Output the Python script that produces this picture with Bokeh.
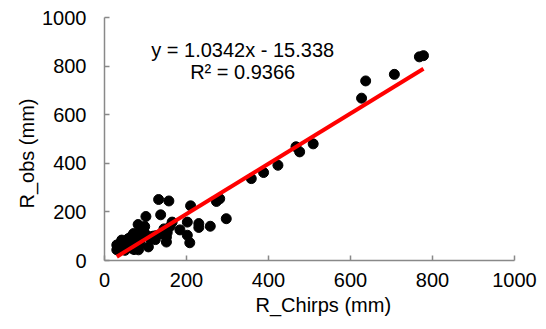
from bokeh.plotting import figure
from bokeh.models import Range1d, FixedTicker, Label, Title
from bokeh.embed import file_html
from bokeh.resources import INLINE

# --- data ---
r_chirps = [778, 768, 707, 637, 627, 509, 467, 476, 423, 388, 358, 297, 281, 273,
            258, 230, 230, 210, 202, 202, 208, 184, 157, 132, 137, 165, 153, 151,
            151, 101, 82, 138, 124, 107, 95, 103, 87, 71, 58, 42, 30, 30, 67, 50,
            83, 35, 40, 45, 52, 55, 60, 65, 70, 75, 78, 85, 90, 92, 98, 62, 48, 38,
            72, 80, 112, 118, 125, 145, 160]
r_obs = [843, 838, 766, 739, 668, 480, 468, 447, 392, 362, 337, 172, 254, 243,
         141, 152, 136, 225, 158, 104, 73, 126, 245, 251, 188, 158, 115, 96,
         76, 181, 148, 111, 86, 56, 125, 104, 84, 111, 90, 84, 64, 44, 50, 42,
         44, 58, 52, 66, 70, 55, 75, 98, 88, 60, 72, 65, 100, 120, 140, 62, 48, 70,
         45, 95, 90, 100, 102, 130, 140]
slope = 1.0342
intercept = -15.338
eq_text = "y = 1.0342x - 15.338"
r2_text = "R² = 0.9366"
ticks = [0, 200, 400, 600, 800, 1000]
x_title = "R_Chirps  (mm)"
y_title = "R_obs (mm)"

FONT = "Liberation Sans"
GREY = "#898989"

p = figure(width=546, height=329, output_backend="svg", toolbar_location=None,
           x_range=Range1d(0, 1000), y_range=Range1d(0, 1000),
           min_border_left=104, min_border_right=32, min_border_top=17,
           min_border_bottom=69)
p.outline_line_color = None
p.xgrid.grid_line_color = None
p.ygrid.grid_line_color = None
p.background_fill_color = "white"
p.border_fill_color = "white"

p.scatter(r_chirps, r_obs, size=10, color="black", marker="circle")

xl = [min(r_chirps), max(r_chirps)]
yl = [slope * v + intercept for v in xl]
p.line(xl, yl, line_color="#ff0000", line_width=4)

for ax in (p.xaxis[0], p.yaxis[0]):
    ax.ticker = FixedTicker(ticks=ticks)
    ax.minor_tick_line_color = None
    ax.major_tick_in = 5
    ax.major_tick_out = 0
    ax.axis_line_color = GREY
    ax.axis_line_width = 1.5
    ax.major_tick_line_color = GREY
    ax.major_tick_line_width = 1.5
    ax.major_label_text_font = FONT
    ax.major_label_text_font_size = "20px"
    ax.major_label_text_color = "black"

p.xaxis.major_label_standoff = 12
p.yaxis.major_label_standoff = 18

# axis titles, placed like the reference (slightly off the frame centre)
p.add_layout(Title(text=x_title, align="left", offset=151, standoff=4,
                   text_font=FONT, text_font_size="20px",
                   text_font_style="normal", text_color="black"), "below")
p.add_layout(Title(text=y_title, align="left", offset=52, standoff=3,
                   text_font=FONT, text_font_size="20px",
                   text_font_style="normal", text_color="black"), "left")

p.add_layout(Label(x=337, y=868, text=eq_text, text_align="center",
                   text_baseline="middle", text_font=FONT,
                   text_font_size="20px", text_color="black"))
p.add_layout(Label(x=337, y=775, text=r2_text, text_align="center",
                   text_baseline="middle", text_font=FONT,
                   text_font_size="20px", text_color="black"))

open("out.html", "w").write(file_html(p, INLINE))
